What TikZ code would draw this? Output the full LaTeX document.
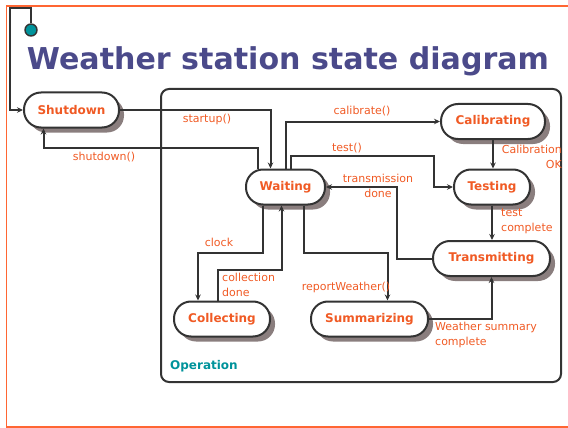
\documentclass[tikz,border=0pt]{standalone}
\usepackage{fontspec}
\setmainfont{DejaVu Sans}
\usetikzlibrary{arrows.meta,shadows}
\definecolor{framec}{HTML}{FF6633}
\definecolor{txtc}{HTML}{F05A24}
\definecolor{titlec}{HTML}{4B4A8A}
\definecolor{tealc}{HTML}{00939B}
\definecolor{linec}{HTML}{333333}
\definecolor{shadc}{HTML}{8A7E7E}
\tikzset{
  state/.style={draw=linec, line width=2pt, fill=white, rounded corners=17pt,
    minimum height=35pt, inner sep=0pt, text=txtc, font=\fontsize{12}{14}\selectfont\bfseries,
    drop shadow={shadow xshift=5pt, shadow yshift=-5pt, fill=shadc, opacity=1}},
  arr/.style={draw=linec, line width=2pt, -{Stealth[length=6pt,width=5.5pt]}},
  lbl/.style={text=txtc, font=\fontsize{11}{14.5}\selectfont, inner sep=0pt}
}
\begin{document}
\begin{tikzpicture}[x=1pt,y=-1pt]
\useasboundingbox (0,0) rectangle (568,428);
% frame
\draw[framec, line width=1.5pt] (568,6) -- (6.5,6) -- (6.5,427) -- (568,427);
% title
\node[text=titlec, inner sep=0pt, anchor=base] (title) at (288,70)
  {\resizebox{522pt}{!}{\bfseries Weather station state diagram}};
% operation box
\node[draw=linec, line width=2pt, rounded corners=8pt, minimum width=400pt,
  minimum height=293pt, inner sep=0pt] (op) at (361,235.5) {};
\node[text=tealc, font=\fontsize{12}{14}\selectfont\bfseries, anchor=west, inner sep=0pt]
  (oplbl) at (170,366) {Operation};
% states
\node[state, minimum width=95pt] (shut) at (71.5,110) {Shutdown};
\node[state, minimum width=79pt] (wait) at (285.5,187) {Waiting};
\node[state, minimum width=104pt] (calib) at (493,121.5) {Calibrating};
\node[state, minimum width=76pt] (test) at (492,187) {Testing};
\node[state, minimum width=117pt] (trans) at (491.5,258.5) {Transmitting};
\node[state, minimum width=96pt] (coll) at (222,319) {Collecting};
\node[state, minimum width=117pt] (summ) at (369.5,319) {Summarizing};
% initial state
\node[circle, draw=linec, line width=1.4pt, fill=tealc, minimum size=12pt, inner sep=0pt]
  (init) at (31,30) {};
\draw[arr] (init.north) -- ++(0,-15) -- ++(-21,0) |- (shut.west);
% connectors
\draw[arr] (shut.east) -| ([xshift=-15pt]wait.north);
\draw[arr] ([xshift=-28pt]wait.north) -- ++(0,-21) -| ([xshift=-28pt]shut.south);
\draw[arr] (wait.north) |- (calib.west);
\draw[arr] ([xshift=5pt]wait.north) -- ++(0,-13) -- ++(143,0) |- (test.west);
\draw[arr] (calib.south) -- (calib.south |- test.north);
\draw[arr] (test.south) -- (test.south |- trans.north);
\draw[arr] (trans.west) -- ++(-35,0) |- (wait.east);
\draw[arr] ([xshift=-23pt]wait.south) -- ++(0,47) -| ([xshift=-24pt]coll.north);
\draw[arr] ([xshift=-4pt]coll.north) -- ++(0,-31) -| ([xshift=-4pt]wait.south);
\draw[arr] ([xshift=18pt]wait.south) -- ++(0,47) -| ([xshift=18pt]summ.north);
\draw[arr] (summ.east) -| (trans.south);
% labels
\node[lbl] (l1) at (207,119) {startup()};
\node[lbl] (l2) at (104,157) {shutdown()};
\node[lbl] (l3) at (362,111) {calibrate()};
\node[lbl] (l4) at (347,148) {test()};
\node[lbl, align=right, anchor=north east] (l5) at (562,145) {Calibration\\OK\hspace{10pt}};
\node[lbl, align=left, anchor=north west] (l6) at (501,209) {test\\complete};
\node[lbl, align=center] (l7) at (378,186) {transmission\\done};
\node[lbl] (l8) at (219,242) {clock};
\node[lbl, align=left, anchor=north west] (l9) at (222,273) {collection\\done};
\node[lbl] (l10) at (346,287) {reportWeather()};
\node[lbl, align=left, anchor=north west] (l11) at (435,322) {Weather summary\\complete};
\end{tikzpicture}
\end{document}
